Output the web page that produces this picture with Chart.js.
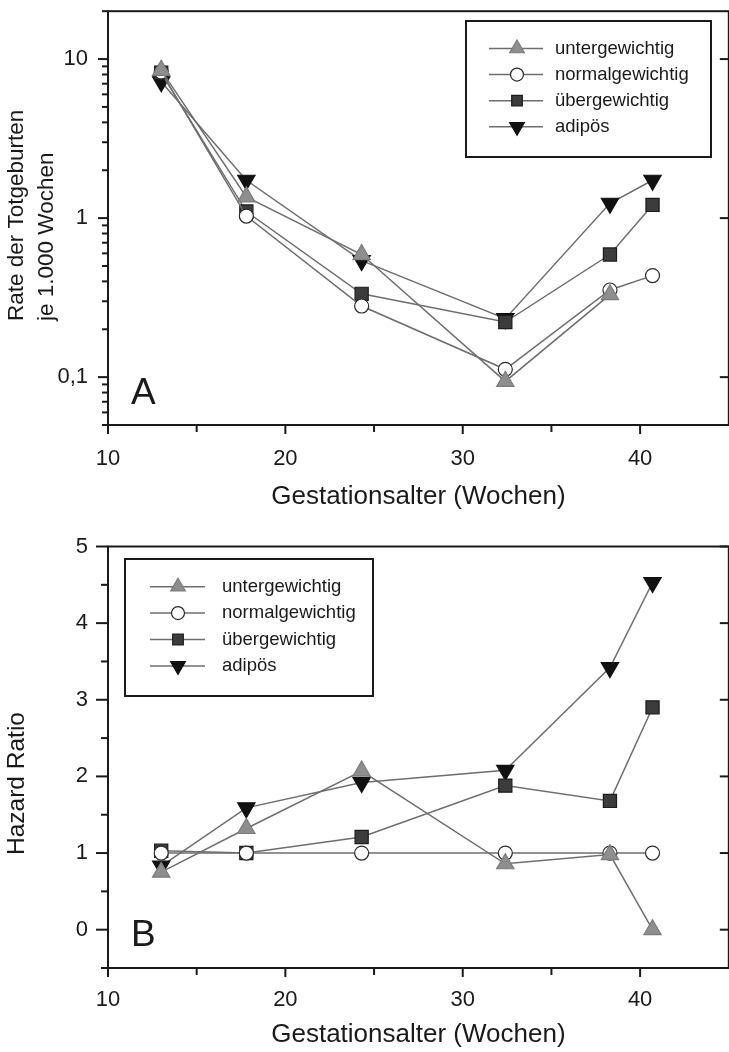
<!DOCTYPE html>
<html lang="de">
<head>
  <meta charset="UTF-8">
  <title>Totgeburten nach Gestationsalter und BMI</title>
  <script src="https://cdn.jsdelivr.net/npm/chart.js@4.4.1/dist/chart.umd.min.js"></script>
  <style>
    html, body { margin: 0; padding: 0; background: #fff; overflow: hidden; }
    .wrap { position: relative; width: 729px; height: 1052px; overflow: hidden; }
    canvas { position: absolute; left: 0; }
    #rateChart { top: 0; }
    #hrChart { top: 520px; }
  </style>
</head>
<body>
<div class="wrap">
  <canvas id="rateChart" width="740" height="520"></canvas>
  <canvas id="hrChart" width="740" height="532"></canvas>
</div>

<script>
const FONT = '"Liberation Sans", Arial, Helvetica, sans-serif';
const INK = '#1a1a1a';

const groups = ['untergewichtig', 'normalgewichtig', 'übergewichtig', 'adipös'];
const weeks = [13, 17.8, 24.3, 32.4, 38.3, 40.7];

// A: Rate der Totgeburten je 1.000 Wochen (log)
const rateUnter  = [8.5, 1.36, 0.59, 0.094, 0.33, null];
const rateNormal = [8.3, 1.03, 0.28, 0.112, 0.353, 0.435];
const rateUeber  = [8.2, 1.10, 0.334, 0.222, 0.59, 1.21];
const rateAdipoes = [7.2, 1.73, 0.54, 0.233, 1.24, 1.73];

// B: Hazard Ratio
const hrUnter  = [0.75, 1.32, 2.07, 0.86, 0.98, 0.0];
const hrNormal = [1, 1, 1, 1, 1, 1];
const hrUeber  = [1.03, 1.0, 1.21, 1.88, 1.68, 2.90];
const hrAdipoes = [0.83, 1.59, 1.92, 2.08, 3.42, 4.53];

// axis ticks
const xTicks = [10, 20, 30, 40];
const xMinor = [15, 25, 35];
const rateTicks = [0.1, 1, 10];
const rateMinor = [0.05, 0.06, 0.07, 0.08, 0.09, 0.2, 0.3, 0.4, 0.5, 0.6, 0.7, 0.8, 0.9,
                   2, 3, 4, 5, 6, 7, 8, 9, 20];
const hrTicks = [0, 1, 2, 3, 4, 5];
const hrMinor = [-0.5, 0.5, 1.5, 2.5, 3.5, 4.5];

const styles = [
  { pointStyle: 'triangle', rotation: 0,   radius: 10,  bg: '#8e8e8e', border: '#7c7c7c', legendRadius: 8.5 },
  { pointStyle: 'circle',   rotation: 0,   radius: 7,   bg: '#ffffff', border: '#2a2a2a', legendRadius: 6.5 },
  { pointStyle: 'rect',     rotation: 0,   radius: 9.3, bg: '#3c3c3c', border: '#1c1c1c', legendRadius: 7.5 },
  { pointStyle: 'triangle', rotation: 180, radius: 10,  bg: '#111111', border: '#111111', legendRadius: 8.5 }
];

function makeDatasets(series) {
  return series.map((vals, i) => ({
    label: groups[i],
    data: weeks.map((w, j) => ({ x: w, y: vals[j] })),
    borderColor: '#6e6e6e',
    borderWidth: 1.5,
    pointStyle: styles[i].pointStyle,
    pointRotation: styles[i].rotation,
    pointRadius: styles[i].radius,
    pointBackgroundColor: styles[i].bg,
    pointBorderColor: styles[i].border,
    pointBorderWidth: 1.2,
    tension: 0,
    fill: false
  }));
}

function line(ctx, x1, y1, x2, y2) {
  ctx.beginPath();
  ctx.moveTo(x1, y1);
  ctx.lineTo(x2, y2);
  ctx.stroke();
}

// frame, tick marks, panel letter, legend box and y title
function paperPlugin(cfg) {
  return {
    id: 'paper',
    afterDraw(chart) {
      const { ctx, chartArea: a, scales: { x, y } } = chart;
      ctx.save();
      ctx.strokeStyle = INK;
      ctx.lineWidth = 2;
      ctx.strokeRect(a.left, a.top, a.right - a.left, a.bottom - a.top);
      xTicks.forEach(v => { const px = x.getPixelForValue(v); line(ctx, px, a.bottom, px, a.bottom + 9); });
      xMinor.forEach(v => { const px = x.getPixelForValue(v); line(ctx, px, a.bottom, px, a.bottom + 7); });
      cfg.yMajor.forEach(v => {
        const py = y.getPixelForValue(v);
        line(ctx, a.left - cfg.majorLen, py, a.left, py);
        line(ctx, a.right - 9, py, a.right, py);
      });
      cfg.yMinor.forEach(v => {
        const py = y.getPixelForValue(v);
        line(ctx, a.left - cfg.minorLen, py, a.left, py);
      });

      // panel letter
      ctx.fillStyle = INK;
      ctx.font = '37px ' + FONT;
      ctx.textAlign = 'left';
      ctx.textBaseline = 'alphabetic';
      ctx.fillText(cfg.letter, cfg.letterX, cfg.letterY);

      // y title, rotated, left aligned
      ctx.font = cfg.yTitleSize + 'px ' + FONT;
      cfg.yTitle.forEach(t => {
        ctx.save();
        ctx.translate(t.x, t.y);
        ctx.rotate(-Math.PI / 2);
        ctx.fillText(t.text, 0, 0);
        ctx.restore();
      });

      // legend
      const L = cfg.legend;
      ctx.fillStyle = '#fff';
      ctx.fillRect(L.x, L.y, L.w, L.h);
      ctx.strokeStyle = INK;
      ctx.lineWidth = 2;
      ctx.strokeRect(L.x, L.y, L.w, L.h);
      chart.data.datasets.forEach((ds, i) => {
        const cy = L.row0 + i * L.gap;
        const st = styles[i];
        ctx.strokeStyle = '#6e6e6e';
        ctx.lineWidth = 1.5;
        line(ctx, L.lineX1, cy, L.lineX2, cy);
        ctx.fillStyle = st.bg;
        ctx.strokeStyle = st.border;
        ctx.lineWidth = 1.2;
        Chart.helpers.drawPoint(ctx, { pointStyle: st.pointStyle, rotation: st.rotation, radius: st.legendRadius, borderWidth: 1.2 }, L.markX, cy);
        ctx.fillStyle = INK;
        ctx.font = '18.5px ' + FONT;
        ctx.textBaseline = 'middle';
        ctx.fillText(ds.label, L.textX, cy);
        ctx.textBaseline = 'alphabetic';
      });
      ctx.restore();
    }
  };
}

function xScale(height, labelPad, titlePad) {
  return {
    type: 'linear',
    min: 10,
    max: 45,
    afterFit: s => { s.height = height; s.paddingLeft = 0; s.paddingRight = 0; },
    afterBuildTicks: s => { s.ticks = xTicks.map(v => ({ value: v })); },
    grid: { display: false, drawTicks: false },
    border: { display: false },
    ticks: {
      autoSkip: false, maxRotation: 0, padding: labelPad, color: INK,
      font: { family: FONT, size: 22 },
      callback: v => String(v)
    },
    title: {
      display: true, text: 'Gestationsalter (Wochen)', color: INK,
      font: { family: FONT, size: 26 },
      padding: { top: 0, bottom: titlePad }
    }
  };
}

function yScaleFit(s) {
  s.width = 108;
  s.paddingTop = 0;
  s.paddingBottom = 0;
}

function yTickOpts(fmt) {
  return {
    autoSkip: false, padding: 20, color: INK,
    font: { family: FONT, size: 22 },
    callback: fmt
  };
}

new Chart(document.getElementById('rateChart'), {
  type: 'line',
  data: { datasets: makeDatasets([rateUnter, rateNormal, rateUeber, rateAdipoes]) },
  options: {
    responsive: false,
    animation: false,
    events: [],
    layout: { padding: { top: 5.5, right: 10, left: 0, bottom: 0 } },
    plugins: { legend: { display: false }, tooltip: { enabled: false } },
    scales: {
      x: xScale(95, 20.5, 7.5),
      y: {
        type: 'logarithmic',
        min: 0.05,
        max: 20,
        afterFit: yScaleFit,
        afterBuildTicks: s => { s.ticks = rateTicks.map(v => ({ value: v })); },
        grid: { display: false, drawTicks: false },
        border: { display: false },
        ticks: yTickOpts(v => v === 0.1 ? '0,1' : String(v))
      }
    }
  },
  plugins: [paperPlugin({
    yMajor: rateTicks, yMinor: rateMinor, majorLen: 10, minorLen: 6,
    letter: 'A', letterX: 131, letterY: 404,
    yTitleSize: 22.5,
    yTitle: [
      { text: 'Rate der Totgeburten', x: 23, y: 321 },
      { text: 'je 1.000 Wochen', x: 53, y: 321 }
    ],
    legend: { x: 466, y: 21, w: 245, h: 136, row0: 48.5, gap: 26.1, lineX1: 489, lineX2: 543, markX: 517, textX: 555 }
  })]
});

new Chart(document.getElementById('hrChart'), {
  type: 'line',
  data: { datasets: makeDatasets([hrUnter, hrNormal, hrUeber, hrAdipoes]) },
  options: {
    responsive: false,
    animation: false,
    events: [],
    layout: { padding: { top: 26.5, right: 10, left: 0, bottom: 0 } },
    plugins: { legend: { display: false }, tooltip: { enabled: false } },
    scales: {
      x: xScale(84, 19, 1.5),
      y: {
        type: 'linear',
        min: -0.5,
        max: 5,
        afterFit: yScaleFit,
        afterBuildTicks: s => { s.ticks = hrTicks.map(v => ({ value: v })); },
        grid: { display: false, drawTicks: false },
        border: { display: false },
        ticks: yTickOpts(v => String(v))
      }
    }
  },
  plugins: [paperPlugin({
    yMajor: hrTicks, yMinor: hrMinor, majorLen: 12, minorLen: 7,
    letter: 'B', letterX: 131, letterY: 426,
    yTitleSize: 24.5,
    yTitle: [
      { text: 'Hazard Ratio', x: 24, y: 335 }
    ],
    legend: { x: 125, y: 39, w: 248, h: 137, row0: 66.7, gap: 26.4, lineX1: 150, lineX2: 205, markX: 178, textX: 222 }
  })]
});
</script>
</body>
</html>
